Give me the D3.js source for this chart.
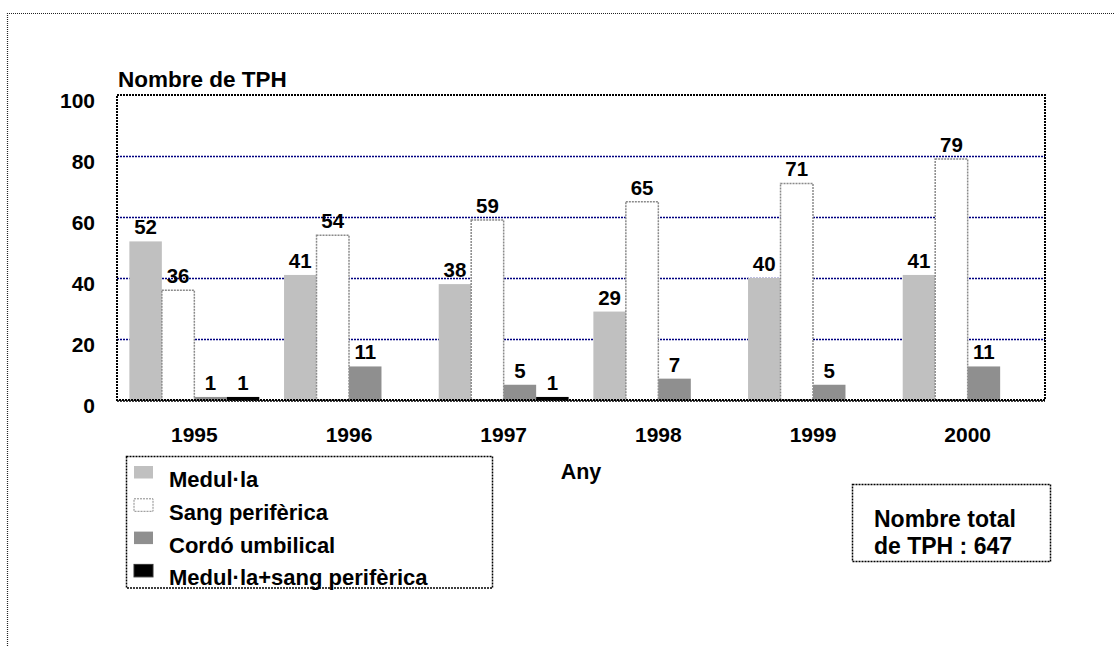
<!DOCTYPE html>
<html>
<head>
<meta charset="utf-8">
<script src="https://cdn.jsdelivr.net/npm/d3@7"></script>
<style>
  html, body { margin: 0; padding: 0; background: #fff; }
  svg text { font-family: "Liberation Sans", Arial, sans-serif; font-weight: bold; fill: #000; }
</style>
</head>
<body>
<svg id="chart" width="1115" height="646"></svg>
<script>
// Transplantaments de progenitors hematopoètics per any i font
const years = ["1995", "1996", "1997", "1998", "1999", "2000"];
const seriesNames = ["Medul·la", "Sang perifèrica", "Cordó umbilical", "Medul·la+sang perifèrica"];
const medulla = [52, 41, 38, 29, 40, 41];
const sangPerif = [36, 54, 59, 65, 71, 79];
const cordo = [1, 11, 5, 7, 5, 11];
const mixta = [1, 0, 1, 0, 0, 0];
const yTicks = [0, 20, 40, 60, 80, 100];
const totalLabel = ["Nombre total", "de TPH : 647"];

const seriesValues = [medulla, sangPerif, cordo, mixta];
const seriesStyle = [
  { fill: "#c0c0c0", stroke: "none", dash: null },
  { fill: "#ffffff", stroke: "#8a8a8a", dash: "2,1" },
  { fill: "#8f8f8f", stroke: "none", dash: null },
  { fill: "#000000", stroke: "none", dash: null }
];

const svg = d3.select("#chart");
const plot = { left: 117, right: 1045, top: 95, bottom: 400 };
const FONT = "Liberation Sans, Arial, sans-serif";

// Outer dotted frame
svg.append("path")
  .attr("d", `M7.5,646 L7.5,13.5 L1115,13.5`)
  .attr("fill", "none").attr("stroke", "#222").attr("stroke-width", 1.2)
  .attr("stroke-dasharray", "1,1");

const x0 = d3.scaleBand().domain(years).range([plot.left, plot.right]).paddingInner(0.16).paddingOuter(0.08);
const x1 = d3.scaleBand().domain(d3.range(seriesNames.length)).range([0, x0.bandwidth()]);
const y = d3.scaleLinear().domain([0, 100]).range([plot.bottom, plot.top]);

// Gridlines
svg.append("g").selectAll("line")
  .data(yTicks.filter(t => t > 0 && t < 100))
  .join("line")
  .attr("x1", plot.left).attr("x2", plot.right)
  .attr("y1", d => Math.round(y(d)) + 0.5).attr("y2", d => Math.round(y(d)) + 0.5)
  .attr("stroke", "#000080").attr("stroke-width", 1.6).attr("stroke-dasharray", "2,1");

// Y axis labels
const yAxis = d3.axisLeft(y).tickValues(yTicks).tickSize(0).tickPadding(0);
const gy = svg.append("g").attr("transform", `translate(${plot.left - 22},0)`).call(yAxis);
gy.select(".domain").remove();
gy.selectAll("text").attr("font-size", 21).attr("font-family", FONT)
  .attr("font-weight", "bold").attr("fill", "#000").attr("dy", "0").attr("y", 12);

// X axis labels
const xAxis = d3.axisBottom(x0).tickSize(0).tickPadding(0);
const gx = svg.append("g").attr("transform", `translate(0,${plot.bottom + 42})`).call(xAxis);
gx.select(".domain").remove();
gx.selectAll("text").attr("font-size", 21).attr("font-family", FONT)
  .attr("font-weight", "bold").attr("fill", "#000").attr("dy", "0").attr("y", 0);

// Bars
const groups = svg.append("g").selectAll("g")
  .data(years)
  .join("g")
  .attr("transform", d => `translate(${x0(d)},0)`);

groups.each(function (year, yi) {
  const g = d3.select(this);
  seriesValues.forEach((vals, si) => {
    const v = vals[yi];
    if (!v) return;
    const st = seriesStyle[si];
    const bx = x1(si), bw = x1.bandwidth();
    g.append("rect")
      .attr("x", bx).attr("width", bw)
      .attr("y", y(v)).attr("height", y(0) - y(v))
      .attr("fill", st.fill)
      .attr("stroke", st.stroke)
      .attr("stroke-width", st.stroke === "none" ? 0 : 1.5)
      .attr("stroke-dasharray", st.dash);
    g.append("text")
      .attr("x", bx + bw / 2).attr("y", y(v) - 7)
      .attr("text-anchor", "middle").attr("font-size", 20.5)
      .text(v);
  });
});

// Plot border
svg.append("rect")
  .attr("x", plot.left).attr("y", plot.top)
  .attr("width", plot.right - plot.left).attr("height", plot.bottom - plot.top)
  .attr("fill", "none").attr("stroke", "#000").attr("stroke-width", 2)
  .attr("stroke-dasharray", "2,1");
svg.append("line")
  .attr("x1", plot.left).attr("x2", plot.right).attr("y1", plot.bottom + 1).attr("y2", plot.bottom + 1)
  .attr("stroke", "#000").attr("stroke-width", 1.5).attr("stroke-dasharray", "2,1");

// Axis titles
svg.append("text").attr("x", plot.left + 1).attr("y", 87).attr("font-size", 22.5).text("Nombre de TPH");
svg.append("text").attr("x", 581).attr("y", 479).attr("text-anchor", "middle").attr("font-size", 21.5).text("Any");

// Legend
const legend = svg.append("g");
legend.append("rect")
  .attr("x", 126.5).attr("y", 456.5).attr("width", 366).attr("height", 131.5)
  .attr("fill", "none").attr("stroke", "#000").attr("stroke-width", 1.5).attr("stroke-dasharray", "2,1");
seriesNames.forEach((name, i) => {
  const ry = 466 + i * 32.8;
  const st = seriesStyle[i];
  legend.append("rect")
    .attr("x", 134).attr("y", ry).attr("width", 19).attr("height", 12.5)
    .attr("fill", st.fill)
    .attr("stroke", i === 1 ? "#8a8a8a" : (i === 3 ? "#333" : "none"))
    .attr("stroke-width", 1).attr("stroke-dasharray", i === 1 ? "2,1" : null);
  legend.append("text")
    .attr("x", 169).attr("y", ry + 21)
    .attr("font-size", 22).text(name);
});

// Total box
const tot = svg.append("g");
tot.append("rect")
  .attr("x", 852.5).attr("y", 484.5).attr("width", 198).attr("height", 77)
  .attr("fill", "none").attr("stroke", "#000").attr("stroke-width", 1.5).attr("stroke-dasharray", "2,1");
totalLabel.forEach((t, i) => {
  tot.append("text").attr("x", 874).attr("y", 527 + i * 27).attr("font-size", 23).text(t);
});
</script>
</body>
</html>
